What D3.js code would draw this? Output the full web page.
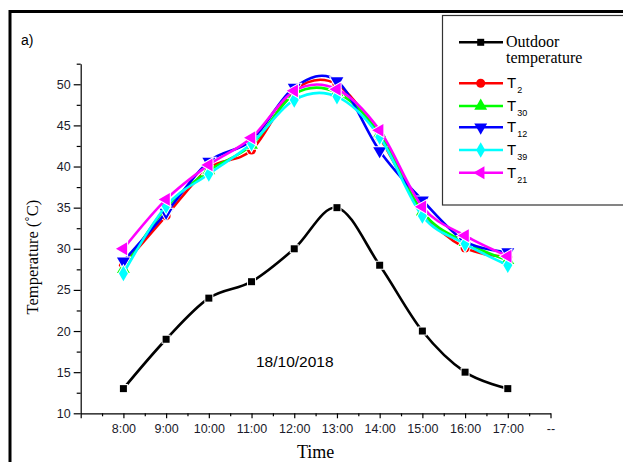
<!DOCTYPE html>
<html>
<head>
<meta charset="utf-8">
<script src="https://cdn.jsdelivr.net/npm/d3@7"></script>
<style>
  html, body { margin: 0; padding: 0; background: #fff; }
  svg { display: block; }
</style>
</head>
<body>
<svg id="chart" width="623" height="462"></svg>
<script>
// ---------- data ----------
const hours = [8, 9, 10, 11, 12, 13, 14, 15, 16, 17];
const xTickLabels = ["", "8:00", "9:00", "10:00", "11:00", "12:00", "13:00", "14:00", "15:00", "16:00", "17:00", "--"];
const yTickValues = [10, 15, 20, 25, 30, 35, 40, 45, 50];
const outdoor = [13, 19, 24, 26, 30, 35, 28, 20, 15, 13];
const t2  = [28.0, 34.0, 39.8, 42.0, 49.3, 50.0, 43.5, 34.5, 30.1, 29.0];
const t30 = [27.5, 35.0, 39.5, 42.6, 48.8, 49.0, 44.0, 34.5, 30.8, 28.6];
const t12 = [28.5, 34.4, 40.6, 43.2, 49.6, 50.4, 41.9, 35.9, 30.9, 29.6];
const t39 = [27.0, 35.2, 39.1, 42.8, 48.1, 48.5, 43.6, 34.0, 30.6, 28.0];
const t21 = [30.0, 36.0, 40.2, 43.5, 49.2, 49.4, 44.4, 35.1, 31.6, 29.1];
const seriesNames = ["Outdoor", "2", "30", "12", "39", "21"];
const seriesColors = ["#000000", "#ff0000", "#00ff00", "#0000ff", "#00ffff", "#ff00ff"];

const series = [
  { name: seriesNames[0], values: outdoor, color: seriesColors[0], shape: "square" },
  { name: seriesNames[1], values: t2,  color: seriesColors[1], shape: "circle" },
  { name: seriesNames[2], values: t30, color: seriesColors[2], shape: "up" },
  { name: seriesNames[3], values: t12, color: seriesColors[3], shape: "down" },
  { name: seriesNames[4], values: t39, color: seriesColors[4], shape: "diamond" },
  { name: seriesNames[5], values: t21, color: seriesColors[5], shape: "left" }
];

// ---------- layout ----------
const svg = d3.select("#chart");
const x = d3.scaleLinear().domain([7, 18]).range([80.7, 550.5]);
const y = d3.scaleLinear().domain([10, 52.5]).range([413.3, 63.7]);

const sans = "'Liberation Sans', Arial, sans-serif";
const serif = "'Liberation Serif', 'Times New Roman', serif";

// outer figure frame
svg.append("path")
  .attr("d", "M10,470 L10,11.5 L630,11.5")
  .attr("fill", "none").attr("stroke", "#000").attr("stroke-width", 3);

// panel label
svg.append("text").attr("x", 21).attr("y", 45).attr("font-family", sans)
  .attr("font-size", 14).attr("fill", "#000").text("a)");

// ---------- axes ----------
svg.append("g").attr("transform", `translate(0,${y(10)})`)
  .call(d3.axisBottom(x).tickValues(d3.range(7.5, 18, 1)).tickSize(3).tickFormat(""))
  .call(g => g.select(".domain").remove());
const xMajor = svg.append("g").attr("transform", `translate(0,${y(10)})`)
  .call(d3.axisBottom(x).tickValues(d3.range(7, 19, 1)).tickSize(5).tickSizeOuter(0)
    .tickFormat((d, i) => xTickLabels[i]).tickPadding(6));
xMajor.selectAll("text").attr("font-family", sans).attr("font-size", 12.5).attr("fill", "#1a1a2a");

svg.append("g").attr("transform", `translate(${x(7)},0)`)
  .call(d3.axisLeft(y).tickValues(d3.range(12.5, 53, 5)).tickSize(4).tickFormat(""))
  .call(g => g.select(".domain").remove());
const yMajor = svg.append("g").attr("transform", `translate(${x(7)},0)`)
  .call(d3.axisLeft(y).tickValues(yTickValues).tickSize(7).tickSizeOuter(0).tickPadding(3));
yMajor.selectAll("text").attr("font-family", sans).attr("font-size", 12.5).attr("fill", "#1a1a2a");
svg.selectAll(".domain, .tick line").attr("stroke", "#000").attr("stroke-width", 1.2);

// axis titles
svg.append("text").attr("x", (x(7) + x(18)) / 2).attr("y", 458)
  .attr("text-anchor", "middle").attr("font-family", serif).attr("font-size", 18)
  .attr("fill", "#000").text("Time");
svg.append("text").attr("transform", `translate(38,${y(29)}) rotate(-90)`)
  .attr("text-anchor", "middle").attr("font-family", serif).attr("font-size", 16.5)
  .attr("fill", "#000").text("Temperature (˚C)");

// date annotation
svg.append("text").attr("x", 256).attr("y", 366.5).attr("font-family", sans)
  .attr("font-size", 15.5).attr("fill", "#000").text("18/10/2018");

// ---------- marks ----------
function symbolPath(shape) {
  if (shape === "square") return { d: d3.symbol(d3.symbolSquare, 49)(), rot: 0 };
  if (shape === "circle") return { d: d3.symbol(d3.symbolCircle, 64)(), rot: 0 };
  if (shape === "up") return { d: d3.symbol(d3.symbolTriangle, 72)(), rot: 0 };
  if (shape === "down") return { d: d3.symbol(d3.symbolTriangle, 72)(), rot: 180 };
  if (shape === "left") return { d: d3.symbol(d3.symbolTriangle, 72)(), rot: -90 };
  if (shape === "diamond") return { d: d3.symbol(d3.symbolDiamond, 70)(), rot: 0 };
}

const line = d3.line().x(d => x(d[0])).y(d => y(d[1])).curve(d3.curveCatmullRom.alpha(0));

series.forEach(s => {
  const pts = hours.map((h, i) => [h, s.values[i]]);
  const g = svg.append("g");
  g.append("path").attr("d", line(pts)).attr("fill", "none")
    .attr("stroke", s.color).attr("stroke-width", 2.6);
  const sp = symbolPath(s.shape);
  g.selectAll("path.m").data(pts).join("path").attr("class", "m")
    .attr("d", sp.d)
    .attr("transform", d => `translate(${x(d[0])},${y(d[1])}) rotate(${sp.rot})`)
    .attr("fill", s.color)
    .attr("stroke", "#fff").attr("stroke-width", 2)
    .style("paint-order", "stroke");
});

// ---------- legend ----------
svg.append("rect").attr("x", 442.5).attr("y", 15.5).attr("width", 200).attr("height", 189.5)
  .attr("fill", "#fff").attr("stroke", "#333").attr("stroke-width", 1.2);

const legendY = [42.3, 83.3, 106, 127.3, 150, 172.7];
series.forEach((s, i) => {
  const ly = legendY[i];
  svg.append("line").attr("x1", 459).attr("x2", 503).attr("y1", ly).attr("y2", ly)
    .attr("stroke", s.color).attr("stroke-width", 2.6);
  const sp = symbolPath(s.shape);
  svg.append("path").attr("d", sp.d)
    .attr("transform", `translate(480.7,${ly}) rotate(${sp.rot})`)
    .attr("fill", s.color);
  if (i === 0) {
    svg.append("text").attr("x", 506).attr("y", ly + 5).attr("font-family", serif)
      .attr("font-size", 16).attr("fill", "#000").text("Outdoor");
    svg.append("text").attr("x", 506).attr("y", ly + 21).attr("font-family", serif)
      .attr("font-size", 16).attr("fill", "#000").text("temperature");
  } else {
    const t = svg.append("text").attr("x", 507).attr("y", ly + 5).attr("font-family", sans)
      .attr("font-size", 15).attr("fill", "#000");
    t.append("tspan").text("T");
    t.append("tspan").attr("font-size", 9).attr("dx", 1).attr("dy", 5).text(s.name);
  }
});
</script>
</body>
</html>
